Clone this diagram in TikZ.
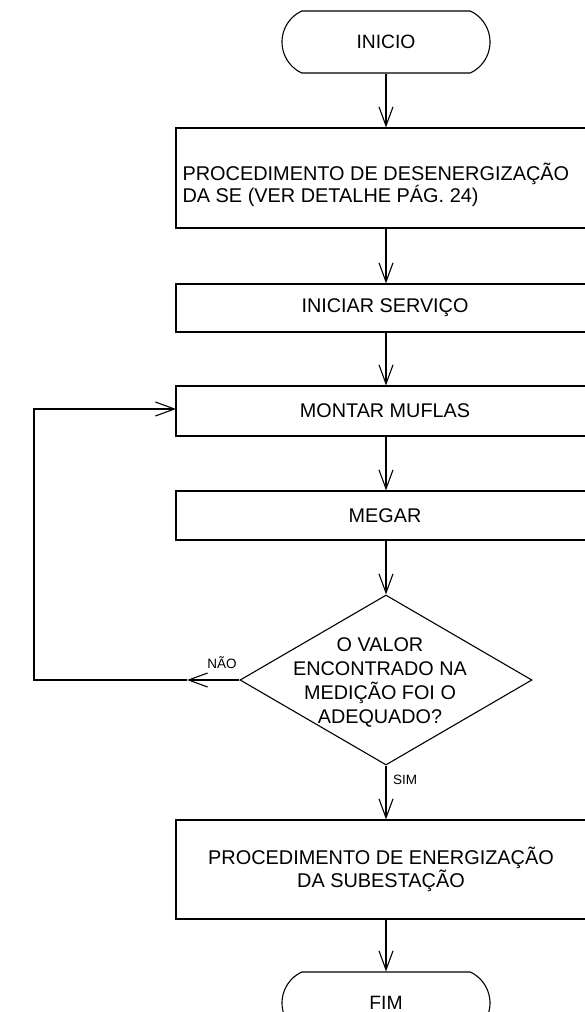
\documentclass[tikz,border=0pt]{standalone}
\usepackage{fontspec}
\setmainfont{Liberation Sans}
\usetikzlibrary{arrows.meta,shapes.geometric,shapes.misc}
\tikzset{
  term/.style={draw, rounded rectangle, rounded rectangle arc length=130, minimum width=208pt, minimum height=62pt, inner sep=0pt, font=\fontsize{19.3}{19}\selectfont},
  stepbox/.style={draw, rectangle, minimum width=418pt, inner sep=0pt, font=\fontsize{19.8}{19}\selectfont},
  decision/.style={draw, diamond, minimum width=292pt, minimum height=170pt, inner sep=0pt},
  txt/.style={inner sep=0pt},
  small/.style={inner sep=0pt, font=\fontsize{13.5}{13.5}\selectfont},
  flow/.style={-{Straight Barb[length=19pt,width=14pt,line width=1.1pt]}}
}
\begin{document}
\begin{tikzpicture}[x=1pt,y=1pt,line width=1.1pt]
\useasboundingbox (0,0) rectangle (585,-1012);
\clip (0,0) rectangle (585,-1012);
\node[term] (start) at (386,-42) {INICIO};
\node[stepbox, minimum height=100pt] (b1) at (385,-178) {};
\node[txt, anchor=west, align=left, font=\fontsize{19.9}{17}\selectfont] (t1) at (182,-185) {PROCEDIMENTO DE DESENERGIZAÇÃO\\DA SE (VER DETALHE PÁG. 24)};
\node[stepbox, minimum height=48pt] (b2) at (385,-308) {INICIAR SERVIÇO};
\node[stepbox, minimum height=50pt] (b3) at (385,-411) {MONTAR MUFLAS};
\node[stepbox, minimum height=49pt] (b4) at (385,-515.5) {MEGAR};
\node[decision] (d) at (386,-680) {};
\node[txt, align=center, font=\fontsize{19.8}{24}\selectfont] (dt) at (380,-682) {O VALOR\\ENCONTRADO NA\\MEDIÇÃO FOI O\\ADEQUADO?};
\node[stepbox, minimum height=99pt, align=center, font=\fontsize{19.9}{23}\selectfont] (b5) at (385,-869.5) {\hspace*{-8pt}PROCEDIMENTO DE ENERGIZAÇÃO\\\hspace*{-8pt}DA SUBESTAÇÃO};
\node[term] (fim) at (386,-1003) {FIM};
\node[small] (nao) at (222,-663) {NÃO};
\node[small] (sim) at (405,-780) {SIM};
\coordinate (n1) at (187,-680);
\coordinate (n2) at (34,-680);
\coordinate (n3) at (34,-409);
\coordinate (n4) at (176,-409);
\draw[flow] (start.south) -- (start.south |- b1.north);
\draw[flow] (b1.south -| start.south) -- (start.south |- b2.north);
\draw[flow] (b2.south -| start.south) -- (start.south |- b3.north);
\draw[flow] (b3.south -| start.south) -- (start.south |- b4.north);
\draw[flow] (b4.south -| start.south) -- (d.north);
\draw[flow] (d.south) -- (d.south |- b5.north);
\draw[flow] (b5.south -| start.south) -- (fim.north);
\draw[flow] (d.west) -- (n1);
\draw[flow] (n1) -- (n2) -- (n3) -- (n4);
\end{tikzpicture}
\end{document}
